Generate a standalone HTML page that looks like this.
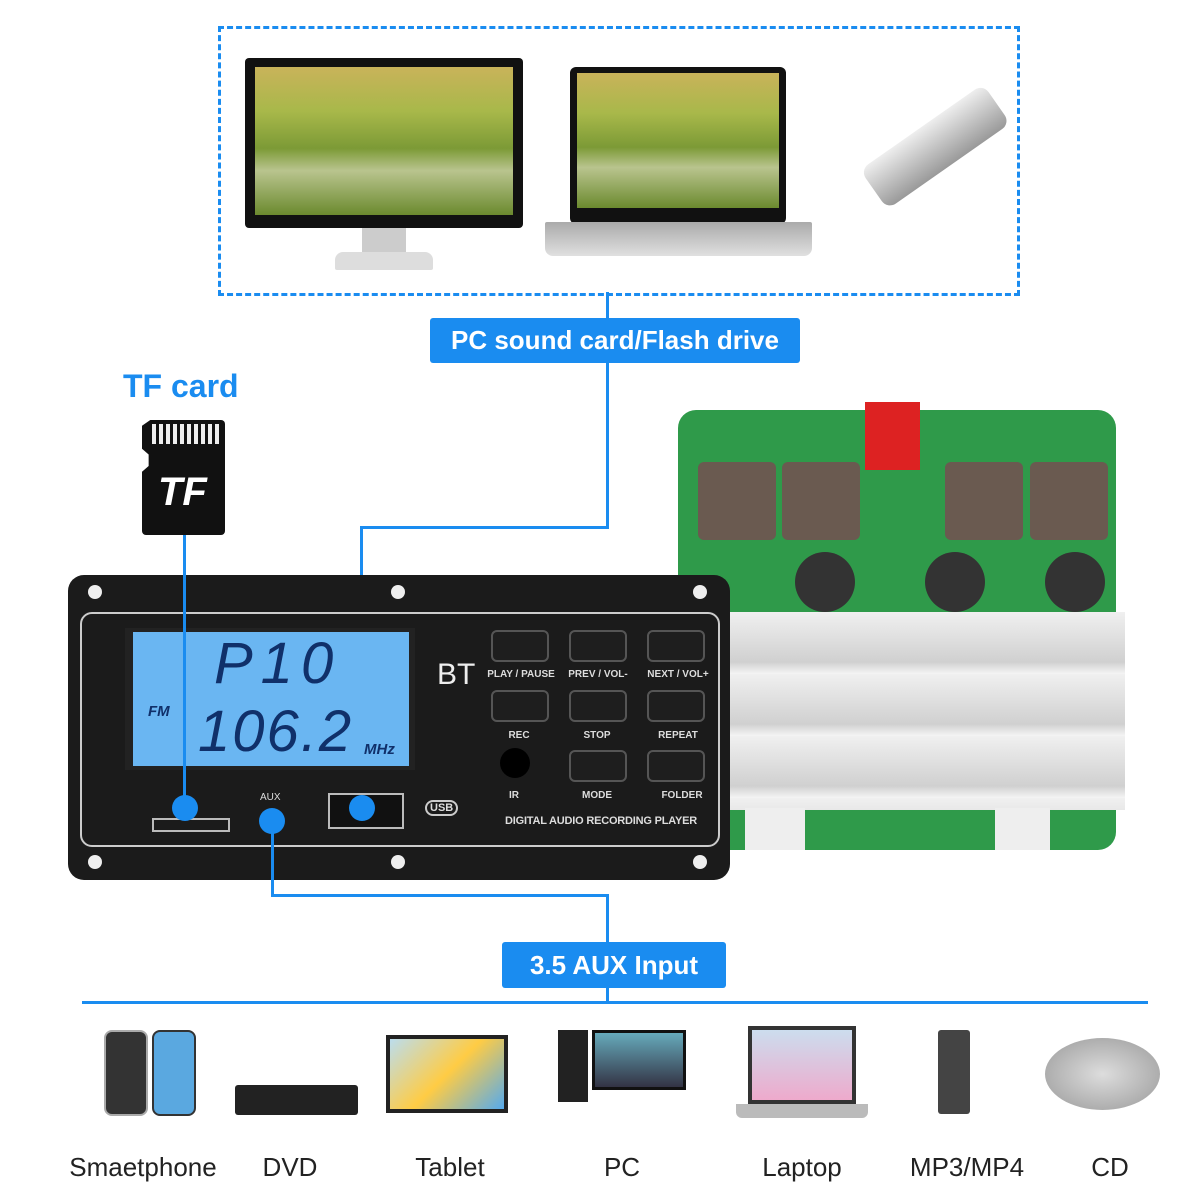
<!DOCTYPE html>
<html><head><meta charset="utf-8"><style>
body{margin:0;width:1200px;height:1200px;background:#fff;position:relative;overflow:hidden;font-family:"Liberation Sans",sans-serif}
.a{position:absolute}
.bl{background:#1a8cf0}
.lbl{position:absolute;background:#1a8cf0;color:#fff;font-weight:bold;font-size:26px;text-align:center;border-radius:3px}
.btn{position:absolute;width:54px;height:28px;background:#1e1e1e;border:2px solid #555;border-radius:6px}
.bt{position:absolute;color:#ddd;font-size:10px;font-weight:bold;width:90px;text-align:center}
.cap{position:absolute;top:1152px;font-size:26px;color:#222;text-align:center;width:180px}
.scr{background:linear-gradient(180deg,#c9b35a 0%,#a8b84a 30%,#7c9a36 55%,#b9c48e 70%,#6b8a2e 100%)}
</style></head><body>
<div class="a" style="left:218px;top:26px;width:796px;height:264px;border:3px dashed #1a8cf0"></div>
<div class="a" style="left:245px;top:58px;width:278px;height:170px;background:#111;border-radius:4px"></div>
<div class="a scr" style="left:255px;top:67px;width:258px;height:148px"></div>
<div class="a" style="left:362px;top:228px;width:44px;height:28px;background:#ccc"></div>
<div class="a" style="left:335px;top:252px;width:98px;height:18px;background:#ddd;border-radius:8px 8px 2px 2px"></div>
<div class="a" style="left:570px;top:67px;width:216px;height:157px;background:#111;border-radius:6px"></div>
<div class="a scr" style="left:577px;top:73px;width:202px;height:135px"></div>
<div class="a" style="left:545px;top:222px;width:267px;height:34px;background:linear-gradient(#aaa,#e0e0e0);border-radius:2px 2px 8px 8px"></div>
<div class="a" style="left:860px;top:170px;width:150px;height:48px;background:linear-gradient(#eee,#999);border-radius:10px;transform:rotate(-35deg);transform-origin:left top"></div>
<div class="a bl" style="left:606px;top:292px;width:3px;height:26px"></div>
<div class="lbl" style="left:430px;top:318px;width:370px;height:45px;line-height:45px">PC sound card/Flash drive</div>
<div class="a bl" style="left:606px;top:363px;width:3px;height:165px"></div>
<div class="a bl" style="left:360px;top:526px;width:249px;height:3px"></div>
<div class="a bl" style="left:360px;top:526px;width:3px;height:282px"></div>
<div class="a" style="left:123px;top:368px;color:#1a8cf0;font-weight:bold;font-size:32px">TF card</div>
<div class="a" style="left:142px;top:420px;width:83px;height:115px;background:#111;border-radius:4px;clip-path:polygon(10% 0,100% 0,100% 100%,0 100%,0 45%,8% 40%,8% 30%,0 25%,0 5%)"></div>
<div class="a" style="left:152px;top:424px;width:70px;height:20px;background:repeating-linear-gradient(90deg,#eee 0 4px,#111 4px 7px)"></div>
<div class="a" style="left:158px;top:470px;color:#fff;font-weight:bold;font-style:italic;font-size:40px">TF</div>
<div class="a" style="left:678px;top:410px;width:438px;height:440px;background:#2f9a4a;border-radius:18px"></div>
<div class="a" style="left:865px;top:402px;width:55px;height:68px;background:#d22"></div>
<div class="a" style="left:698px;top:462px;width:78px;height:78px;background:#6a5a50;border-radius:6px"></div>
<div class="a" style="left:782px;top:462px;width:78px;height:78px;background:#6a5a50;border-radius:6px"></div>
<div class="a" style="left:945px;top:462px;width:78px;height:78px;background:#6a5a50;border-radius:6px"></div>
<div class="a" style="left:1030px;top:462px;width:78px;height:78px;background:#6a5a50;border-radius:6px"></div>
<div class="a" style="left:795px;top:552px;width:60px;height:60px;background:#333;border-radius:50%"></div>
<div class="a" style="left:925px;top:552px;width:60px;height:60px;background:#333;border-radius:50%"></div>
<div class="a" style="left:1045px;top:552px;width:60px;height:60px;background:#333;border-radius:50%"></div>
<div class="a" style="left:730px;top:612px;width:395px;height:198px;background:repeating-linear-gradient(180deg,#f0f0f0 0,#d0d0d0 50px,#f5f5f5 62px)"></div>
<div class="a" style="left:745px;top:808px;width:60px;height:42px;background:#eee"></div>
<div class="a" style="left:995px;top:808px;width:55px;height:42px;background:#eee"></div>
<div class="a" style="left:68px;top:575px;width:662px;height:305px;background:#1b1b1b;border-radius:16px"></div>
<div class="a" style="left:80px;top:612px;width:636px;height:231px;border:2px solid #ccc;border-radius:12px"></div>
<div class="a" style="left:125px;top:628px;width:290px;height:142px;background:#222"></div>
<div class="a" style="left:133px;top:632px;width:276px;height:134px;background:#6ab6f2"></div>
<div class="a" style="left:214px;top:630px;font-size:58px;color:#10306a;font-style:italic;letter-spacing:8px">P10</div>
<div class="a" style="left:198px;top:698px;font-size:58px;color:#10306a;font-style:italic;letter-spacing:2px">106.2</div>
<div class="a" style="left:148px;top:703px;font-size:15px;color:#10306a;font-weight:bold;font-style:italic">FM</div>
<div class="a" style="left:364px;top:741px;font-size:15px;color:#10306a;font-weight:bold;font-style:italic">MHz</div>
<div class="a" style="left:437px;top:658px;color:#eee;font-size:30px">BT</div>
<div class="btn" style="left:491px;top:630px"></div><div class="btn" style="left:569px;top:630px"></div><div class="btn" style="left:647px;top:630px"></div>
<div class="btn" style="left:491px;top:690px"></div><div class="btn" style="left:569px;top:690px"></div><div class="btn" style="left:647px;top:690px"></div>
<div class="btn" style="left:569px;top:750px"></div><div class="btn" style="left:647px;top:750px"></div>
<div class="a" style="left:500px;top:748px;width:30px;height:30px;background:#000;border-radius:50%"></div>
<div class="bt" style="left:476px;top:669px">PLAY / PAUSE</div><div class="bt" style="left:553px;top:669px">PREV / VOL-</div><div class="bt" style="left:633px;top:669px">NEXT / VOL+</div>
<div class="bt" style="left:474px;top:730px">REC</div><div class="bt" style="left:552px;top:730px">STOP</div><div class="bt" style="left:633px;top:730px">REPEAT</div>
<div class="bt" style="left:469px;top:790px">IR</div><div class="bt" style="left:552px;top:790px">MODE</div><div class="bt" style="left:637px;top:790px">FOLDER</div>
<div class="a" style="left:505px;top:815px;color:#ddd;font-size:11px;font-weight:bold;letter-spacing:-0.2px">DIGITAL AUDIO RECORDING PLAYER</div>
<div class="a" style="left:425px;top:800px;color:#ddd;font-size:11px;font-weight:bold;border:2px solid #ccc;border-radius:8px;padding:0 3px">USB</div>
<div class="a" style="left:328px;top:793px;width:72px;height:32px;border:2px solid #bbb;background:#111"></div>
<div class="a" style="left:152px;top:818px;width:74px;height:10px;border:2px solid #bbb"></div>
<div class="a" style="left:260px;top:792px;color:#ddd;font-size:10px">AUX</div>
<div class="a" style="left:88px;top:585px;width:14px;height:14px;border-radius:50%;background:#eee"></div>
<div class="a" style="left:391px;top:585px;width:14px;height:14px;border-radius:50%;background:#eee"></div>
<div class="a" style="left:693px;top:585px;width:14px;height:14px;border-radius:50%;background:#eee"></div>
<div class="a" style="left:88px;top:855px;width:14px;height:14px;border-radius:50%;background:#eee"></div>
<div class="a" style="left:391px;top:855px;width:14px;height:14px;border-radius:50%;background:#eee"></div>
<div class="a" style="left:693px;top:855px;width:14px;height:14px;border-radius:50%;background:#eee"></div>
<div class="a bl" style="left:183px;top:535px;width:3px;height:273px"></div>
<div class="a bl" style="left:172px;top:795px;width:26px;height:26px;border-radius:50%"></div>
<div class="a bl" style="left:349px;top:795px;width:26px;height:26px;border-radius:50%"></div>
<div class="a bl" style="left:259px;top:808px;width:26px;height:26px;border-radius:50%"></div>
<div class="a bl" style="left:271px;top:830px;width:3px;height:67px"></div>
<div class="a bl" style="left:271px;top:894px;width:338px;height:3px"></div>
<div class="a bl" style="left:606px;top:894px;width:3px;height:108px"></div>
<div class="lbl" style="left:502px;top:942px;width:224px;height:46px;line-height:46px">3.5 AUX Input</div>
<div class="a bl" style="left:82px;top:1001px;width:1066px;height:3px"></div>
<div class="a" style="left:104px;top:1030px;width:40px;height:82px;background:#333;border-radius:8px;border:2px solid #aaa"></div>
<div class="a" style="left:152px;top:1030px;width:40px;height:82px;background:#5aa8e0;border-radius:8px;border:2px solid #333"></div>
<div class="a" style="left:235px;top:1085px;width:123px;height:30px;background:#222;border-radius:3px"></div>
<div class="a" style="left:386px;top:1035px;width:122px;height:78px;background:linear-gradient(135deg,#bde 0,#fc4 50%,#5ae 100%);border:4px solid #222;box-sizing:border-box"></div>
<div class="a" style="left:558px;top:1030px;width:30px;height:72px;background:#222"></div>
<div class="a" style="left:592px;top:1030px;width:94px;height:60px;background:linear-gradient(#6ab,#334);border:3px solid #111;box-sizing:border-box"></div>
<div class="a" style="left:748px;top:1026px;width:108px;height:78px;background:linear-gradient(#cde,#eac);border:4px solid #333;box-sizing:border-box"></div>
<div class="a" style="left:736px;top:1104px;width:132px;height:14px;background:#bbb;border-radius:0 0 6px 6px"></div>
<div class="a" style="left:938px;top:1030px;width:32px;height:84px;background:#444;border-radius:3px"></div>
<div class="a" style="left:1045px;top:1038px;width:115px;height:72px;background:radial-gradient(#ddd,#999);border-radius:50%"></div>
<div class="cap" style="left:53px">Smaetphone</div>
<div class="cap" style="left:200px">DVD</div>
<div class="cap" style="left:360px">Tablet</div>
<div class="cap" style="left:532px">PC</div>
<div class="cap" style="left:712px">Laptop</div>
<div class="cap" style="left:877px">MP3/MP4</div>
<div class="cap" style="left:1020px">CD</div>
</body></html>
